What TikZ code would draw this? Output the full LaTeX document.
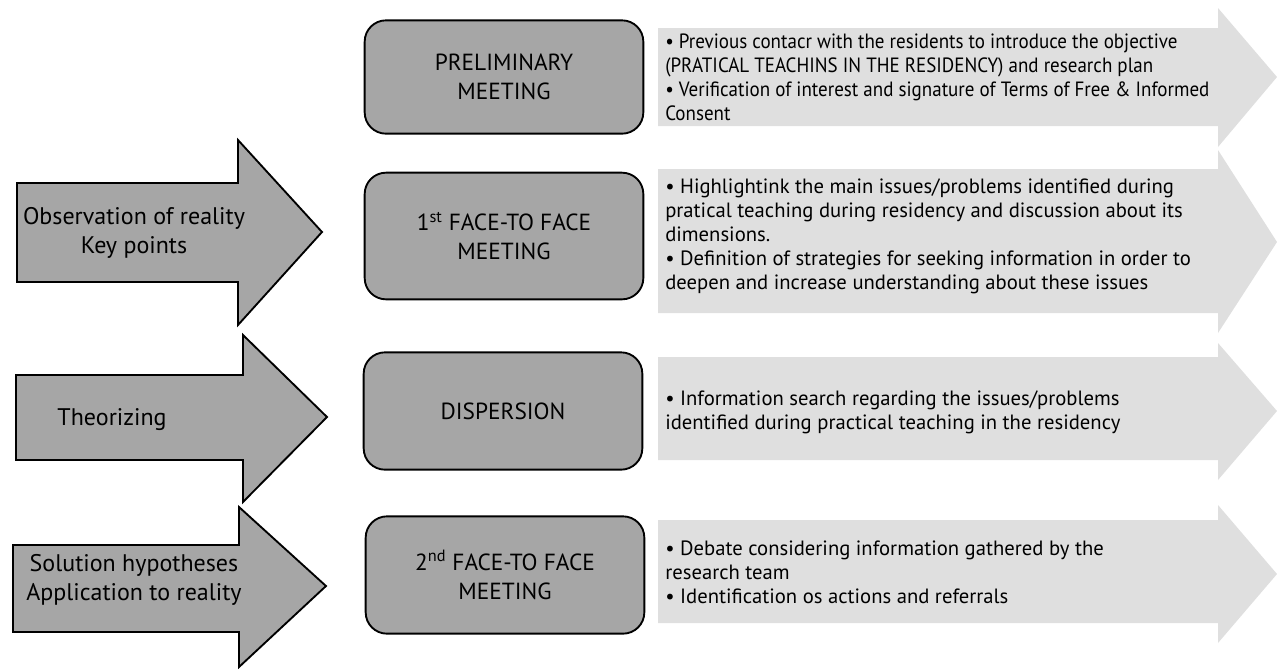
\documentclass[tikz,border=0pt]{standalone}
\usepackage{fontspec}
\setmainfont{PT Sans}
\newfontfamily\narrowsans[FakeStretch=0.92]{PT Sans}

\begin{document}
\begin{tikzpicture}[x=0.75pt, y=-0.75pt, line join=miter,
    phase/.style={draw=black, line width=1.4pt, fill=boxgray, rounded corners=16pt,
      minimum width=209pt, align=center, inner sep=2pt,
      font=\fontsize{17.5}{22}\selectfont},
    note/.style={anchor=west, align=left, inner sep=0pt,
      font=\fontsize{15.5}{18}\selectfont},
    stage/.style={align=center, inner sep=0pt, font=\fontsize{18}{21.5}\selectfont},
    bigarrow/.style={draw=black, line width=1.4pt, fill=boxgray},
    strip/.style={fill=stripgray}]
  \definecolor{boxgray}{RGB}{166,166,166}
  \definecolor{stripgray}{RGB}{223,223,223}
  \useasboundingbox (0,0) rectangle (1277,669);

  % ==== light strips behind the descriptions ====
  \fill[strip] (658,28) -- (1218,28) -- (1218,8) -- (1277,77) -- (1218,147)
    -- (1218,126) -- (658,126) -- cycle;
  \fill[strip] (658,169) -- (1218,169) -- (1218,150) -- (1277,242) -- (1218,333)
    -- (1218,313) -- (658,313) -- cycle;
  \fill[strip] (658,357) -- (1218,357) -- (1218,343) -- (1277,411) -- (1218,480)
    -- (1218,460) -- (658,460) -- cycle;
  \fill[strip] (658,520) -- (1218,520) -- (1218,505) -- (1277,574) -- (1218,643)
    -- (1218,623) -- (658,623) -- cycle;

  % ==== big arrows on the left ====
  \draw[bigarrow] (17,183) -- (238,183) -- (238,140) -- (322,232) -- (238,325)
    -- (238,282) -- (17,282) -- cycle;
  \draw[bigarrow] (16,375) -- (243,375) -- (243,335) -- (327,417) -- (243,502)
    -- (243,460) -- (16,460) -- cycle;
  \draw[bigarrow] (13,545) -- (239,545) -- (239,507) -- (326,586) -- (239,667)
    -- (239,632) -- (13,632) -- cycle;
  \node[stage] (observ) at (134,233) {Observation of reality\\Key points};
  \node[stage] (theor) at (112,420) {Theorizing};
  \node[stage] (solut) at (134,580) {Solution hypotheses\\Application to reality};

  % ==== meetings ====
  \node[phase, minimum height=85pt] (prelim) at (504,77) {PRELIMINARY\\MEETING};
  \node[phase, minimum height=95pt] (face1) at (504,236) {1\textsuperscript{st} FACE-TO FACE\\MEETING};
  \node[phase, minimum height=88pt] (disp) at (503,411) {DISPERSION};
  \node[phase, minimum height=88pt] (face2) at (505,575) {2\textsuperscript{nd} FACE-TO FACE\\MEETING};

  % ==== descriptions ====
  \node[note, font=\narrowsans\fontsize{15.5}{18}\selectfont] (prelimtxt) at (665,77)
    {• Previous contacr with the residents to introduce the objective\\
     (PRATICAL TEACHINS IN THE RESIDENCY) and research plan\\
     • Verification of interest and signature of Terms of Free \& Informed\\
     Consent};
  \node[note] (face1txt) at (665,236)
    {• Highlightink the main issues/problems identified during\\
     pratical teaching during residency and discussion about its\\
     dimensions.\\
     • Definition of strategies for seeking information in order to\\
     deepen and increase understanding about these issues};
  \node[note] (disptxt) at (665,412)
    {• Information search regarding the issues/problems\\
     identified during practical teaching in the residency};
  \node[note] (face2txt) at (665,572)
    {• Debate considering information gathered by the\\
     research team\\
     • Identification os actions and referrals};
\end{tikzpicture}
\end{document}
